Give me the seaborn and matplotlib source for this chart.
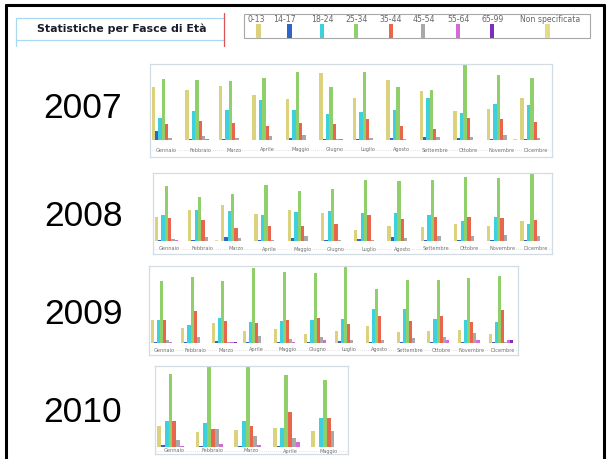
import matplotlib
matplotlib.use("Agg")
import matplotlib.pyplot as plt
import pandas as pd
import seaborn as sns
from matplotlib.patches import Rectangle
from matplotlib.lines import Line2D

# ---- data -------------------------------------------------------------
fasce = ["0-13", "14-17", "18-24", "25-34", "35-44", "45-54", "55-64", "65-99", "Non specificata"]
colori = ["#dcd27e", "#2f64c8", "#3ed0dc", "#8fd06a", "#e8674c",
          "#a8a8a8", "#d46ad8", "#7a2fc0", "#e6da82"]
mesi = ["Gennaio", "Febbraio", "Marzo", "Aprile", "Maggio", "Giugno",
        "Luglio", "Agosto", "Settembre", "Ottobre", "Novembre", "Dicembre"]

# one row per month, one column per age band
valori_2007 = [
    [53, 9, 22, 61, 16, 2, 0, 0, 0],
    [50, 1, 29, 60, 19, 4, 1, 0, 0],
    [54, 1, 30, 59, 17, 2, 0, 0, 0],
    [45, 0, 40, 62, 14, 4, 0, 0, 0],
    [41, 2, 30, 68, 17, 5, 0, 0, 0],
    [67, 1, 26, 53, 16, 1, 1, 0, 0],
    [42, 1, 28, 68, 21, 2, 0, 0, 0],
    [60, 2, 30, 53, 14, 1, 0, 0, 0],
    [49, 3, 42, 50, 11, 3, 0, 0, 0],
    [29, 2, 27, 76, 22, 3, 0, 0, 0],
    [31, 1, 36, 65, 21, 5, 0, 0, 1],
    [42, 1, 35, 62, 18, 2, 0, 0, 0],
]
valori_2008 = [
    [24, 1, 26, 55, 23, 2, 1, 0, 0],
    [31, 1, 31, 44, 21, 4, 0, 0, 1],
    [36, 4, 30, 47, 13, 3, 0, 0, 0],
    [27, 1, 26, 56, 15, 1, 0, 0, 0],
    [31, 3, 29, 50, 15, 5, 0, 0, 0],
    [28, 1, 30, 52, 17, 1, 0, 0, 0],
    [11, 2, 28, 61, 26, 1, 0, 0, 0],
    [15, 4, 28, 60, 22, 3, 0, 0, 0],
    [14, 1, 26, 61, 24, 5, 0, 0, 0],
    [17, 1, 20, 64, 24, 5, 0, 0, 0],
    [15, 1, 24, 63, 23, 6, 0, 0, 0],
    [20, 1, 17, 67, 21, 5, 0, 0, 0],
]
valori_2009 = [
    [23, 1, 23, 62, 23, 3, 1, 0, 0],
    [15, 1, 18, 66, 32, 6, 0, 0, 0],
    [20, 2, 25, 62, 22, 1, 1, 1, 0],
    [12, 1, 21, 75, 20, 7, 0, 0, 0],
    [14, 1, 22, 71, 23, 4, 1, 0, 0],
    [9, 1, 23, 70, 25, 6, 3, 0, 0],
    [12, 2, 24, 77, 19, 3, 0, 0, 0],
    [17, 1, 34, 54, 27, 3, 0, 0, 0],
    [11, 1, 34, 63, 22, 5, 0, 0, 0],
    [12, 1, 24, 63, 27, 6, 3, 0, 0],
    [13, 1, 23, 65, 21, 10, 3, 0, 0],
    [9, 1, 21, 67, 33, 1, 3, 3, 0],
]
valori_2010 = [
    [21, 2, 26, 73, 26, 7, 1, 0, 0],
    [15, 1, 24, 81, 18, 18, 3, 0, 0],
    [17, 1, 26, 81, 21, 11, 2, 0, 0],
    [19, 1, 19, 72, 35, 9, 5, 0, 0],
    [16, 0, 29, 67, 29, 16, 0, 0, 0],
]

anni = ["2007", "2008", "2009", "2010"]
tabelle = [valori_2007, valori_2008, valori_2009, valori_2010]

# ---- layout (pixels) --------------------------------------------------
W, H = 611, 459
# panel box (x0, y0, x1, y1), bar baseline y, month label y, year label y
pannelli = [
    ((150, 64, 552, 157), 140, 150, 108),
    ((153, 173, 552, 254), 241, 249, 216),
    ((149, 266, 518, 355), 343, 350, 315),
    ((155, 366, 348, 454), 447, 451, 412),
]

sns.set_style("white")
fig = plt.figure(figsize=(W / 100, H / 100), dpi=100)
fig.patch.set_facecolor("white")


def rect(x0, y0, x1, y1):
    return [x0 / W, 1 - y1 / H, (x1 - x0) / W, (y1 - y0) / H]


def fx(x):
    return x / W


def fy(y):
    return 1 - y / H


def fig_line(x0, y0, x1, y1, **kw):
    fig.add_artist(Line2D([fx(x0), fx(x1)], [fy(y0), fy(y1)],
                          transform=fig.transFigure, **kw))


# ---- outer frame ------------------------------------------------------
fig_line(6, 5, 604, 5, color="black", lw=2.2)
fig_line(6, 5, 6, 459, color="black", lw=2.2)
fig_line(604, 5, 604, 459, color="black", lw=2.2)

# ---- title box --------------------------------------------------------
fig_line(16, 18, 224, 18, color="#a9d9f2", lw=0.9)
fig_line(16, 40, 224, 40, color="#a9d9f2", lw=0.9)
fig_line(16, 18, 16, 46, color="#a9d9f2", lw=0.9)
fig_line(224, 13, 224, 46, color="#e05050", lw=0.9)
fig.text(fx(122), fy(29), "Statistiche per Fasce di Età", ha="center", va="center",
         fontsize=7.9, fontweight="bold", color="#1c1c2a", family="DejaVu Sans")

# ---- legend -----------------------------------------------------------
LEG_TOP, LEG_BOT = 14, 38
fig.add_artist(Rectangle((fx(244), fy(LEG_BOT)), fx(590) - fx(244), fy(LEG_TOP) - fy(LEG_BOT),
                         transform=fig.transFigure, fill=False,
                         edgecolor="#a8a8a8", lw=0.8))
centri_testo = [256, 284, 322, 357, 391, 424, 459, 493, 550]
centri_box = [258, 289, 322, 356, 391, 423, 458, 492, 547]
for nome, col, xt, xb in zip(fasce, colori, centri_testo, centri_box):
    fig.text(fx(xt), fy(19.5), nome, ha="center", va="center",
             fontsize=5.6, color="#666666", family="DejaVu Sans")
    fig.add_artist(Rectangle((fx(xb - 2.5), fy(LEG_BOT)), 5 / W, (LEG_BOT - 24) / H,
                             transform=fig.transFigure, facecolor=col,
                             edgecolor="none"))

# ---- yearly panels ----------------------------------------------------
for anno, valori, (box, base, ylab, yanno) in zip(anni, tabelle, pannelli):
    x0, y0, x1, y1 = box
    n = len(valori)
    mesi_anno = mesi[:n]
    df = pd.DataFrame(
        [(m, f, v) for m, riga in zip(mesi_anno, valori) for f, v in zip(fasce, riga)],
        columns=["Mese", "Fascia", "Valore"],
    )
    ax = fig.add_axes(rect(x0, y0, x1, y1))
    sns.barplot(data=df, x="Mese", y="Valore", hue="Fascia", order=mesi_anno,
                hue_order=fasce, palette=colori, saturation=1, width=0.9,
                errorbar=None, legend=False, ax=ax, linewidth=0)
    ax.set_xlim(-0.5, n - 0.5)
    ax.set_ylim(-(y1 - base), base - y0)
    ax.set_xticks([])
    ax.set_yticks([])
    ax.set_xlabel("")
    ax.set_ylabel("")
    for s in ax.spines.values():
        s.set_visible(True)
        s.set_color("#d3dbe3")
        s.set_linewidth(0.9)
    yv = -(ylab - base)
    ax.axhline(yv, color="#d8d8d8", lw=0.6, ls=(0, (1, 1.5)), zorder=0.5)
    for i, m in enumerate(mesi_anno):
        ax.text(i, yv, m, ha="center", va="center", fontsize=3.6,
                color="#6f6f6f", family="DejaVu Sans",
                bbox=dict(facecolor="white", edgecolor="none", pad=0.3))
    fig.text(fx(83), fy(yanno), anno, ha="center", va="center",
             fontsize=25.5, color="black", family="Liberation Sans")

fig.savefig("out.png", dpi=100, facecolor="white")
